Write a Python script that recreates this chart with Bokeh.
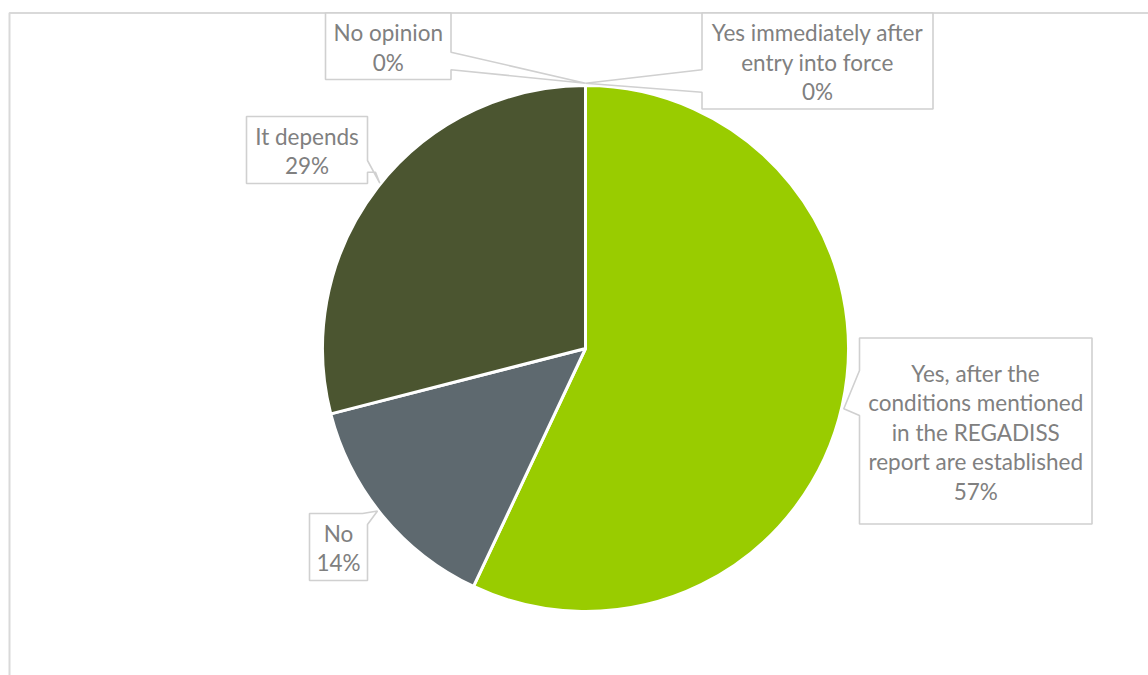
import math
from bokeh.plotting import figure
from bokeh.models import Range1d
from bokeh.core.properties import value
from bokeh.embed import file_html
from bokeh.resources import INLINE

# ---------------- data ----------------
categories = [
    "Yes immediately after entry into force",
    "Yes, after the conditions mentioned in the REGADISS report are established",
    "No",
    "It depends",
    "No opinion",
]
shares = [0, 57, 14, 29, 0]  # percent
colors = ["#7F9F1F", "#99CC00", "#5E696F", "#4B5530", "#A6A6A6"]

# ---------------- layout (page pixel coordinates) ----------------
W, H = 1148, 675
OFF = 0  # figure placed at page origin


def X(px):
    return px - OFF


def Y(py):
    return (OFF + H) - py


label_lines = [
    ["Yes immediately after", "entry into force"],
    ["Yes, after the", "conditions mentioned", "in the REGADISS", "report are established"],
    ["No"],
    ["It depends"],
    ["No opinion"],
]
# box: left, right, top, bottom (page px)
boxes = [
    (701.5, 932.5, 12.5, 108.5),
    (859.0, 1091.5, 337.5, 523.5),
    (309.0, 367.0, 513.0, 580.0),
    (246.0, 367.0, 116.0, 183.0),
    (325.0, 450.5, 12.5, 79.0),
]
tip = (585.0, 82.7)
# outline polygons (page px) for the callout shapes
shapes = [
    [(701.5, 12.5), (932.5, 12.5), (932.5, 108.5), (701.5, 108.5), (701.5, 91.7), tip, (701.5, 69.3)],
    [(859.0, 337.5), (1091.5, 337.5), (1091.5, 523.5), (859.0, 523.5), (859.0, 415.0), (843.3, 408.3), (859.0, 370.0)],
    [(309.0, 513.0), (362.0, 513.0), (377.0, 510.5), (367.0, 524.0), (367.0, 580.0), (309.0, 580.0)],
    [(246.0, 116.0), (367.0, 116.0), (367.0, 160.0), (379.3, 182.7), (375.0, 171.7), (367.0, 171.7), (367.0, 183.0), (246.0, 183.0)],
    [(325.0, 12.5), (450.5, 12.5), (450.5, 51.7), tip, (450.5, 69.3), (450.5, 79.0), (325.0, 79.0)],
]
CX, CY, R = 585.0, 348.0, 263.0
LINE_H = 29.5
FONT = "Lato"
FSIZE = "22.5px"
TEXT_COLOR = "#808080"
BOX_LINE = "#D0D0D0"
FRAME = "#D9D9D9"

# ---------------- figure ----------------
p = figure(width=W, height=H, output_backend="svg", toolbar_location=None,
           x_range=Range1d(0, W), y_range=Range1d(0, H), min_border=0)
p.axis.visible = False
p.grid.visible = False
p.outline_line_color = None
p.background_fill_color = "white"
p.border_fill_color = "white"

# chart frame (left and top edges visible)
p.line(x=[X(9), X(9), X(1148)], y=[Y(675), Y(12.5), Y(12.5)], line_color=FRAME, line_width=2)

# pie wedges
total = sum(shares)
start = []
end = []
cum = 0.0
for v in shares:
    a0 = math.pi / 2 - 2 * math.pi * cum / total
    cum += v
    a1 = math.pi / 2 - 2 * math.pi * cum / total
    start.append(a0)
    end.append(a1)

nz = [i for i, v in enumerate(shares) if v > 0]
p.wedge(x=[X(CX)] * len(nz), y=[Y(CY)] * len(nz), radius=R,
        start_angle=[start[i] for i in nz], end_angle=[end[i] for i in nz],
        direction="clock", fill_color=[colors[i] for i in nz],
        line_color="white", line_width=3)

# callout boxes
xs = [[X(a) for a, b in s] for s in shapes]
ys = [[Y(b) for a, b in s] for s in shapes]
p.patches(xs=xs, ys=ys, fill_color="white", line_color=BOX_LINE, line_width=1.6)

# labels
tx, ty, tt = [], [], []
for i, v in enumerate(shares):
    lines = label_lines[i] + [f"{round(v)}%"]
    l, r, t, b = boxes[i]
    cxb = (l + r) / 2
    cyb = (t + b) / 2 + 1
    n = len(lines)
    for k, s in enumerate(lines):
        tx.append(X(cxb))
        ty.append(Y(cyb + (k - (n - 1) / 2) * LINE_H))
        tt.append(s)
p.text(x=tx, y=ty, text=tt, text_font=value(FONT), text_font_size=FSIZE,
       text_color=TEXT_COLOR, text_align="center", text_baseline="middle")

open("out.html", "w").write(file_html(p, INLINE))
